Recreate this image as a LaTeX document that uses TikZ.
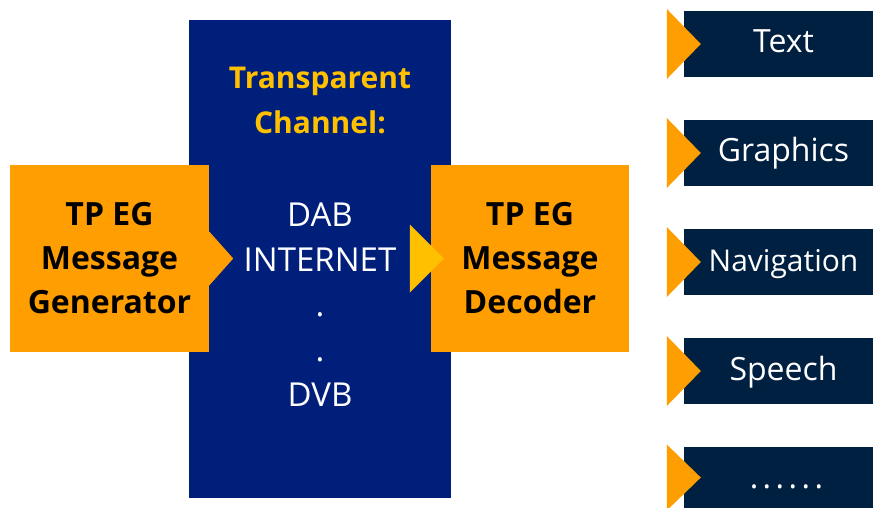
\documentclass[tikz,border=0pt]{standalone}
\usepackage{fontspec}
\setmainfont{Open Sans}
\usetikzlibrary{positioning}

\definecolor{tporange}{RGB}{255,158,0}
\definecolor{tpyellow}{RGB}{255,192,0}
\definecolor{chanblue}{RGB}{0,31,122}
\definecolor{appnavy}{RGB}{0,32,66}

\begin{document}
\begin{tikzpicture}[x=1pt, y=-1pt,
    tpbox/.style={fill=tporange, minimum width=199pt, minimum height=187pt,
      inner sep=0pt, align=center, font=\bfseries\fontsize{32}{44}\selectfont},
    chanbox/.style={fill=chanblue, minimum width=262pt, minimum height=478pt,
      inner sep=0pt},
    chantext/.style={anchor=north, inner sep=0pt, align=center},
    appbox/.style={fill=appnavy, text=white, minimum width=189pt,
      minimum height=66pt, inner sep=0pt},
    applabel/.style={text=white, inner sep=0pt, text height=22pt,
      text depth=4pt, font=\fontsize{32}{36}\selectfont},
    apptip/.style={fill=tporange}
  ]
  \useasboundingbox (0,0) rectangle (873,508);

  % transparent channel
  \node[chanbox] (chan) at (320,259) {};
  \node[chantext, text=tpyellow, font=\bfseries\fontsize{30}{45}\selectfont]
    (title) at (320,67) {Transparent\\Channel:};
  \node[chantext, text=white, font=\fontsize{33}{45}\selectfont]
    (nets) at (320,203) {DAB\\INTERNET\\.\\.\\DVB};

  % generator and decoder
  \node[tpbox] (gen) at (109.5,258.5) {TP EG\\Message\\Generator};
  \node[tpbox, minimum width=198pt] (dec) at (530,258.5) {TP EG\\Message\\Decoder};

  % arrow tips
  \fill[tporange] ([yshift=27pt]gen.east) -- ([xshift=24pt]gen.east)
    -- ([yshift=-27pt]gen.east) -- cycle;
  \fill[tpyellow] ([xshift=-21pt, yshift=34pt]dec.west) -- ([xshift=13pt]dec.west)
    -- ([xshift=-21pt, yshift=-34pt]dec.west) -- cycle;

  % applications
  \foreach \name/\lbl/\y in {text/Text/44, graph/Graphics/153,
      navi/{\fontsize{30}{36}\selectfont Navigation}/262, speech/Speech/371} {
    \node[appbox] (\name) at (778.5,\y) {};
    \node[applabel] (\name-lbl) at ([xshift=5pt]\name.center) {\lbl};
    \fill[apptip] ([xshift=-17pt, yshift=35pt]\name.west) -- ([xshift=17pt]\name.west)
      -- ([xshift=-17pt, yshift=-35pt]\name.west) -- cycle;
  }
  \node[appbox, minimum height=61pt] (more) at (778.5,477.5) {};
  \node[applabel] (more-lbl) at ([xshift=8pt, yshift=-2pt]more.center)
    {\addfontfeatures{LetterSpace=14}......};
  \fill[apptip] ([xshift=-17pt, yshift=33pt]more.west) -- ([xshift=17pt]more.west)
    -- ([xshift=-17pt, yshift=-33pt]more.west) -- cycle;
\end{tikzpicture}
\end{document}
